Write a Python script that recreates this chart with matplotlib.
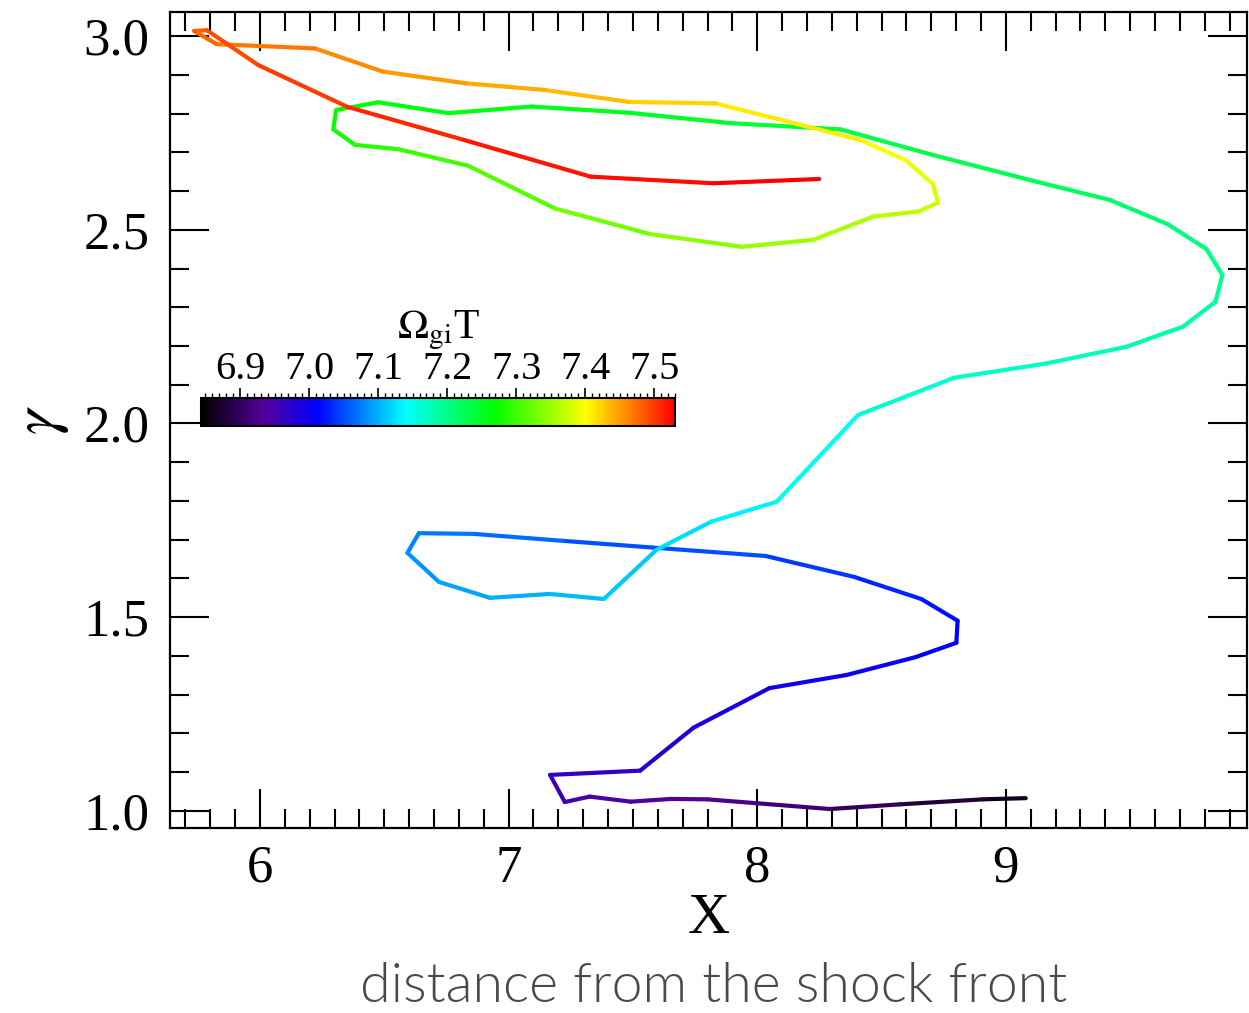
import numpy as np
import matplotlib
matplotlib.use("Agg")
import matplotlib.pyplot as plt
from matplotlib.collections import LineCollection
from matplotlib.colors import LinearSegmentedColormap, Normalize
from matplotlib.ticker import MultipleLocator

# trajectory data (time-ordered): position X, Lorentz factor gamma, time Omega_gi T
x_pos = [9.080, 8.908, 8.573, 8.292, 7.997, 7.798, 7.652, 7.491, 7.326, 7.226,
         7.167, 7.529, 7.744, 8.049, 8.360, 8.637, 8.801, 8.806, 8.660, 8.390,
         8.034, 7.221, 6.860, 6.639, 6.593, 6.720, 6.925, 7.166, 7.383, 7.595,
         7.816, 8.078, 8.406, 8.792, 9.163, 9.485, 9.713, 9.843, 9.871, 9.807,
         9.652, 9.418, 9.123, 8.706, 8.335, 7.895, 7.483, 7.092, 6.757, 6.476,
         6.306, 6.295, 6.382, 6.556, 6.838, 7.186, 7.568, 7.937, 8.225, 8.466,
         8.647, 8.727, 8.707, 8.597, 8.413, 7.833, 7.483, 7.142, 6.828, 6.495,
         6.221, 5.826, 5.735, 5.786, 5.993, 6.352, 6.819, 7.330, 7.823, 8.249]
gamma = [1.033, 1.030, 1.017, 1.005, 1.020, 1.030, 1.031, 1.024, 1.037, 1.023,
         1.093, 1.104, 1.215, 1.317, 1.351, 1.397, 1.434, 1.491, 1.547, 1.604,
         1.658, 1.697, 1.715, 1.717, 1.666, 1.591, 1.550, 1.560, 1.547, 1.674,
         1.747, 1.798, 2.022, 2.118, 2.155, 2.198, 2.250, 2.314, 2.383, 2.450,
         2.514, 2.577, 2.624, 2.693, 2.759, 2.775, 2.802, 2.818, 2.801, 2.829,
         2.809, 2.759, 2.719, 2.708, 2.665, 2.555, 2.489, 2.456, 2.474, 2.534,
         2.547, 2.570, 2.618, 2.680, 2.732, 2.826, 2.830, 2.861, 2.878, 2.908,
         2.968, 2.979, 3.013, 3.015, 2.925, 2.817, 2.732, 2.637, 2.620, 2.631]
time = [6.855, 6.870, 6.890, 6.905, 6.920, 6.930, 6.935, 6.940, 6.945, 6.950,
        6.960, 6.970, 6.985, 6.995, 7.000, 7.005, 7.010, 7.015, 7.025, 7.035,
        7.045, 7.060, 7.070, 7.076, 7.082, 7.090, 7.097, 7.103, 7.108, 7.120,
        7.130, 7.140, 7.155, 7.165, 7.172, 7.178, 7.185, 7.190, 7.197, 7.203,
        7.210, 7.217, 7.224, 7.230, 7.237, 7.245, 7.252, 7.258, 7.262, 7.265,
        7.268, 7.275, 7.285, 7.295, 7.305, 7.320, 7.335, 7.345, 7.353, 7.362,
        7.370, 7.378, 7.385, 7.392, 7.400, 7.420, 7.430, 7.440, 7.448, 7.455,
        7.465, 7.475, 7.480, 7.485, 7.495, 7.505, 7.515, 7.522, 7.527, 7.530]

cbar_ticks = [6.9, 7.0, 7.1, 7.2, 7.3, 7.4, 7.5]
t_min, t_max = 6.8435, 7.530

plt.rcParams['mathtext.fontset'] = 'stix'
serif = ['Liberation Serif', 'DejaVu Serif']

cmap = LinearSegmentedColormap.from_list(
    'grace_rainbow',
    [(0.0, (0, 0, 0)), (0.13, (0.33, 0.0, 0.6)), (0.244, (0, 0, 1)),
     (0.432, (0, 1, 1)), (0.62, (0, 1, 0)), (0.814, (1, 1, 0)), (1.0, (1, 0, 0))])
norm = Normalize(t_min, t_max)

W, H = 1249, 1013
fig = plt.figure(figsize=(W / 100, H / 100), dpi=100)
ax = fig.add_axes([170 / W, 1 - 828 / H, (1247 - 170) / W, (828 - 12) / H])

pts = np.column_stack([x_pos, gamma])
segs = np.stack([pts[:-1], pts[1:]], axis=1)
tarr = np.array(time)
tmid = 0.5 * (tarr[:-1] + tarr[1:])
lc = LineCollection(segs, cmap=cmap, norm=norm, linewidths=3.0,
                    capstyle='round', joinstyle='round')
lc.set_array(tmid)
ax.add_collection(lc)

ax.set_xlim(5.638, 9.97)
ax.set_ylim(0.956, 3.062)
ax.xaxis.set_major_locator(MultipleLocator(1))
ax.xaxis.set_minor_locator(MultipleLocator(0.1))
ax.yaxis.set_major_locator(MultipleLocator(0.5))
ax.yaxis.set_minor_locator(MultipleLocator(0.1))
ax.tick_params(which='both', direction='in', top=True, right=True, width=1.5)
ax.tick_params(which='major', length=28, pad=12)
ax.tick_params(which='minor', length=14)
ax.tick_params(axis='y', which='major', pad=15)
for s in ax.spines.values():
    s.set_linewidth(1.6)
for lab in ax.get_xticklabels() + ax.get_yticklabels():
    lab.set_family(serif)
    lab.set_fontsize(38)
ax.set_xlabel('X', family=serif, fontsize=42, labelpad=0)
ax.set_ylabel(r'$\gamma$', fontsize=46, labelpad=9)

# colorbar inset
cax = fig.add_axes([201 / W, 1 - 425.7 / H, 474 / W, 28.2 / H])
cb = fig.colorbar(plt.cm.ScalarMappable(norm=norm, cmap=cmap), cax=cax,
                  orientation='horizontal', ticklocation='top', ticks=cbar_ticks)
cb.ax.xaxis.set_minor_locator(MultipleLocator(0.01))
cb.ax.tick_params(which='major', direction='out', length=7, width=1.2, pad=0)
cb.ax.tick_params(which='minor', direction='out', length=3.5, width=1.0)
cb.outline.set_linewidth(1.5)
cb.ax.set_xticklabels([f'{v:.1f}' for v in cbar_ticks], family=serif, fontsize=29)
cb.set_label(r'$\Omega_{\rm gi}$T', family=serif, fontsize=30)
cb.ax.xaxis.set_label_coords(0.5, 3.1)

fig.text(714 / W, 1 - 987 / H, 'distance from the shock front', ha='center',
         va='center', fontsize=40, color='#4a4a4a', family=['Lato', 'DejaVu Sans'],
         fontweight=300)

fig.savefig('out.png', dpi=100, facecolor='white')
